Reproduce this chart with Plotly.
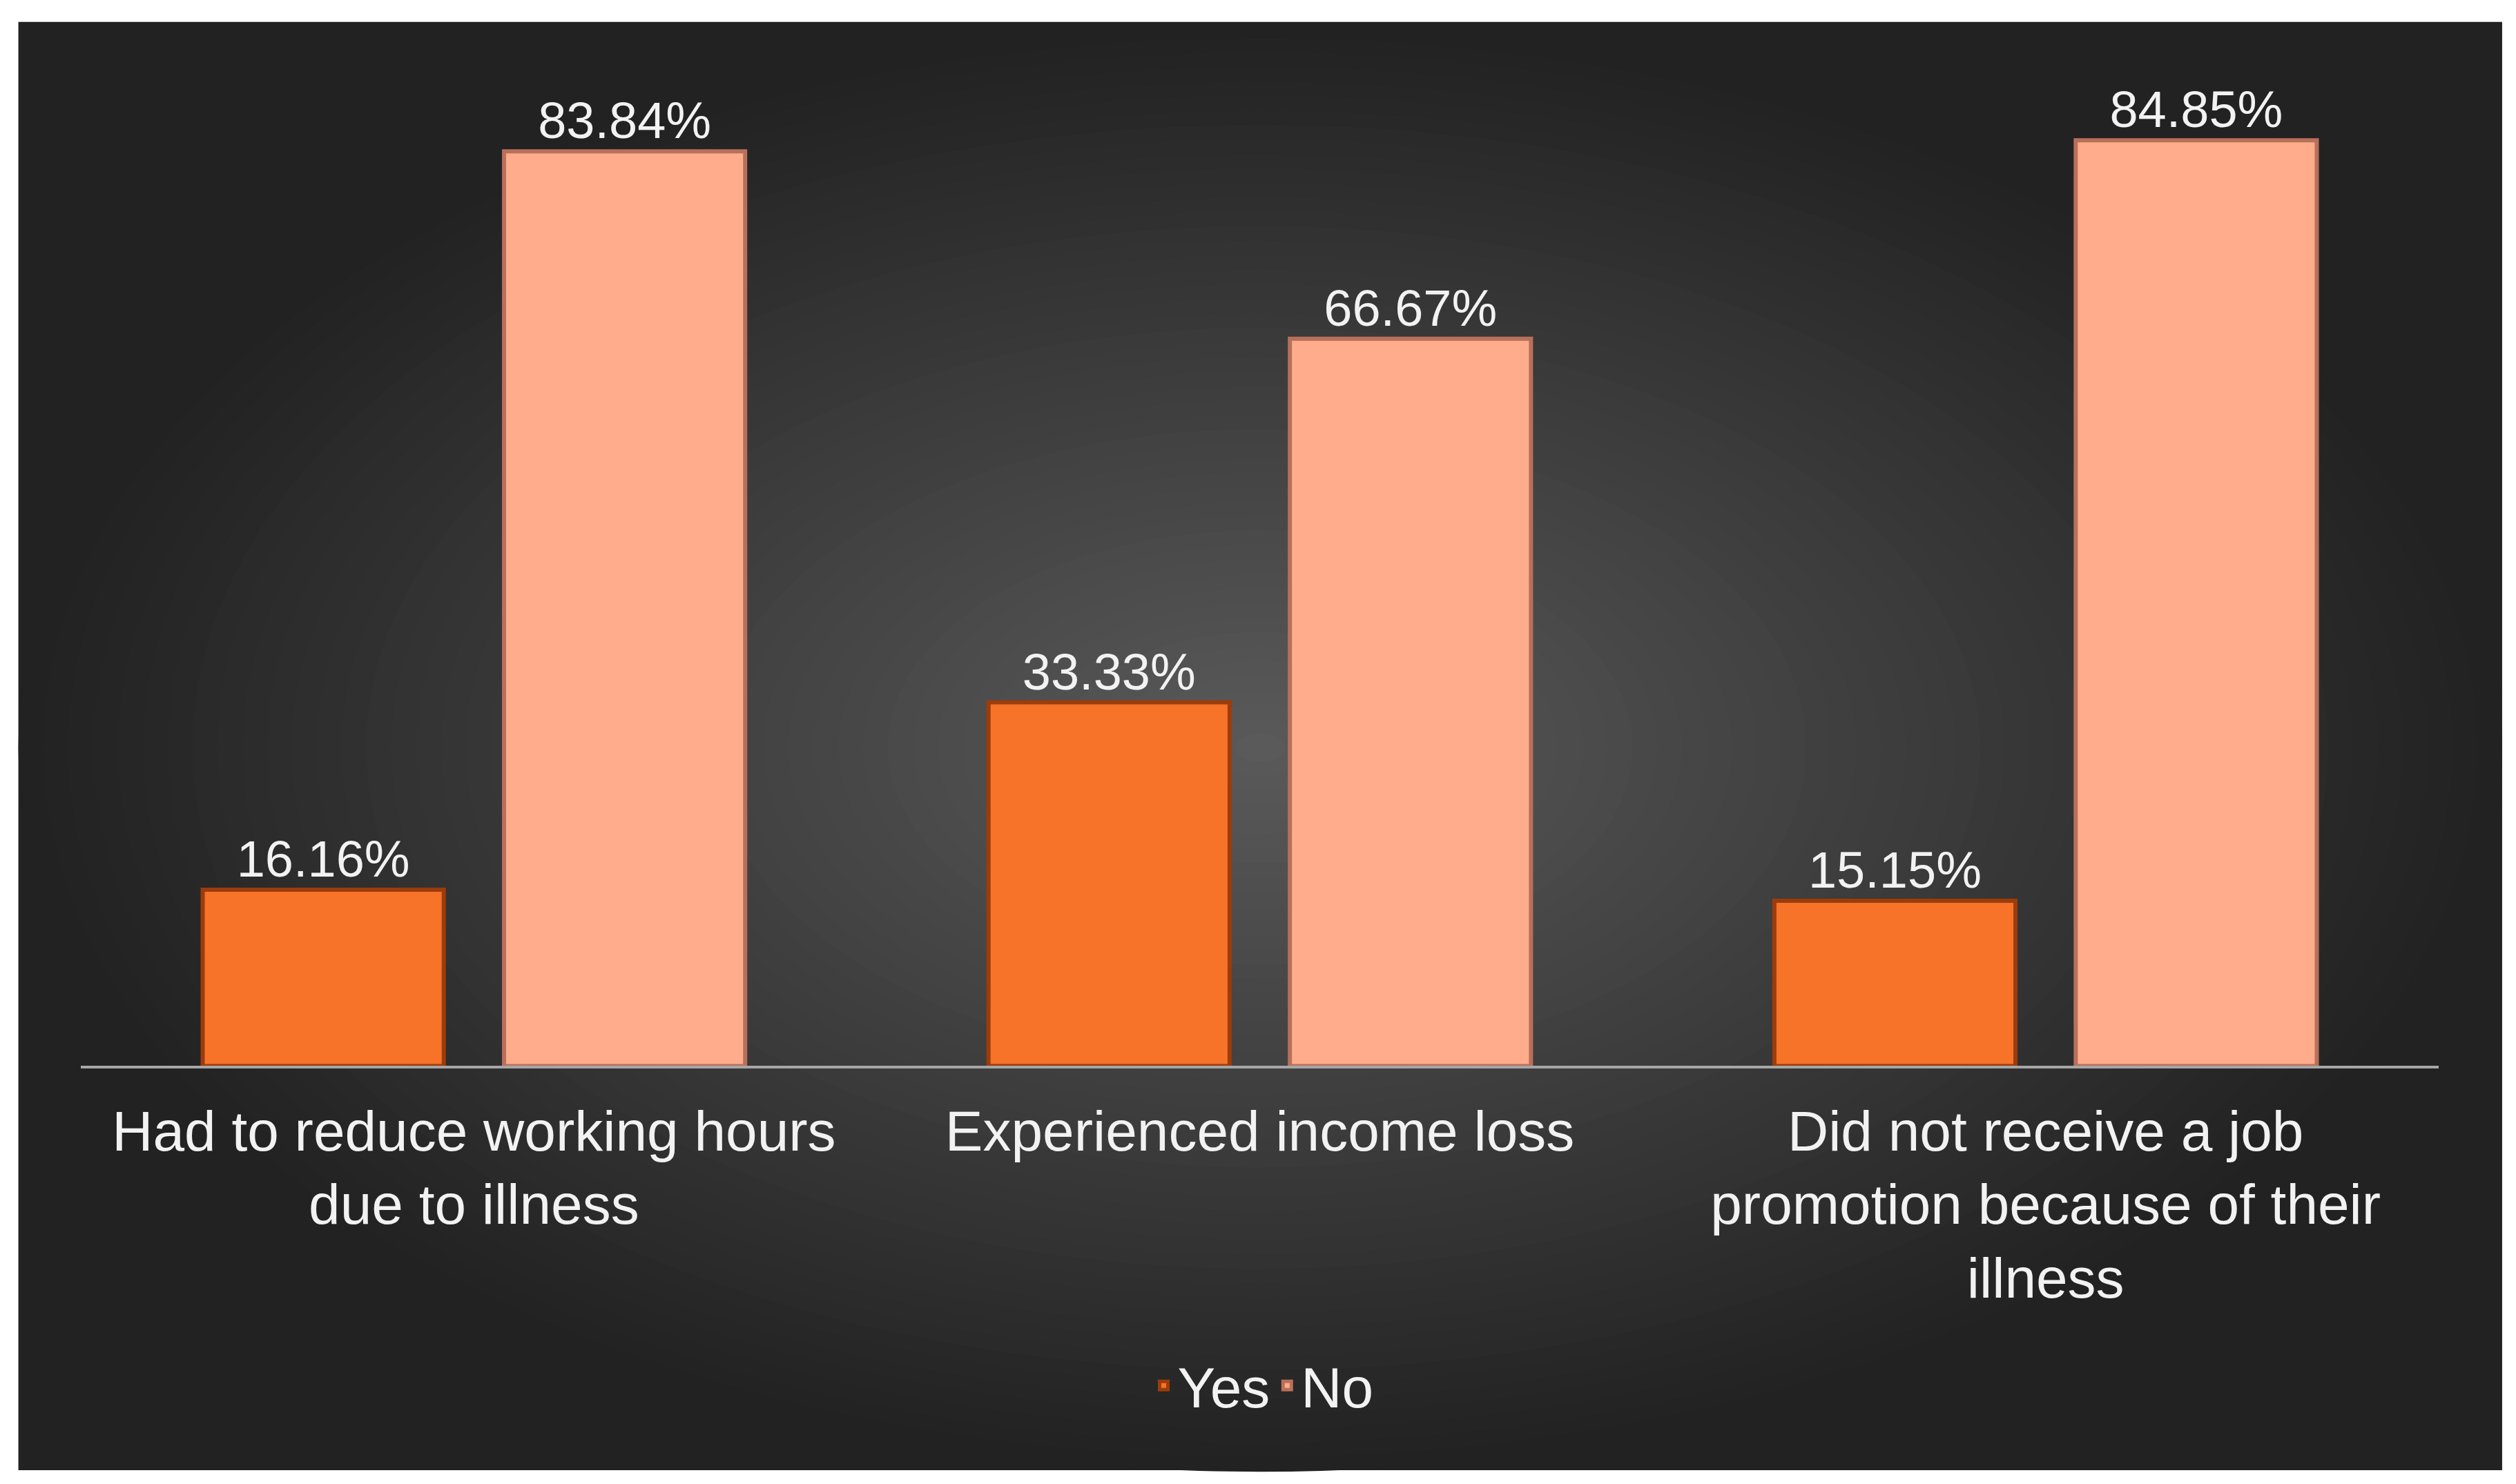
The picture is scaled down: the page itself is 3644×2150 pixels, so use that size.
import plotly.graph_objects as go

categories = ["Had to reduce working hours<br>due to illness", "Experienced income loss",
              "Did not receive a job<br>promotion because of their<br>illness"]
yes_vals = [16.16, 33.33, 15.15]
no_vals = [83.84, 66.67, 84.85]

fig = go.Figure()
fig.add_bar(x=categories, y=yes_vals, name="Yes",
            marker=dict(color="#f7732a", line=dict(color="#9c3c0c", width=6)),
            text=[f"{v:.2f}%" for v in yes_vals], textposition="outside",
            textfont=dict(color="#f2f2f2", size=74), cliponaxis=False)
fig.add_bar(x=categories, y=no_vals, name="No",
            marker=dict(color="#ffac8c", line=dict(color="#b8705a", width=6)),
            text=[f"{v:.2f}%" for v in no_vals], textposition="outside",
            textfont=dict(color="#f2f2f2", size=74), cliponaxis=False)

shapes = [dict(type="rect", xref="paper", yref="paper", x0=0.0051, x1=0.9923, y0=0.013, y1=0.989,
               fillcolor="#222222", line=dict(width=0), layer="below")]
N = 50
cx, cy = 0.4987, 0.50
hw, hh = (0.9923 - 0.0051) / 2, (0.989 - 0.013) / 2
for k in range(N):
    f = 1 - k / N
    t = k / (N - 1)
    c = int(0x22 + (0x5a - 0x22) * t)
    col = f"rgb({c},{c},{c})"
    shapes.append(dict(type="circle", xref="paper", yref="paper",
                       x0=cx - hw * f, x1=cx + hw * f, y0=cy - hh * f, y1=cy + hh * f,
                       fillcolor=col, line=dict(width=0), layer="below"))

fig.update_layout(
    width=3644, height=2150, margin=dict(l=0, r=0, t=0, b=0),
    paper_bgcolor="white", plot_bgcolor="rgba(0,0,0,0)",
    font=dict(family="Liberation Sans, Arial", color="#f2f2f2"),
    barmode="group", bargap=0.233, bargroupgap=0.2,
    shapes=shapes,
    legend=dict(orientation="h", x=0.5, xanchor="center", y=0.07, yanchor="middle",
                font=dict(size=82, color="#f2f2f2"), bgcolor="rgba(0,0,0,0)"),
    xaxis=dict(domain=[0.030, 0.967], range=[-0.5, 2.5], showline=True, linecolor="#a6a6a6",
               linewidth=4, ticks="", tickfont=dict(size=82, color="#f2f2f2"), showgrid=False,
               ticklabelstandoff=20),
    yaxis=dict(domain=[0.2854, 0.99], range=[0, 95.85], visible=False, showgrid=False),
)
fig.write_html("out.html")
